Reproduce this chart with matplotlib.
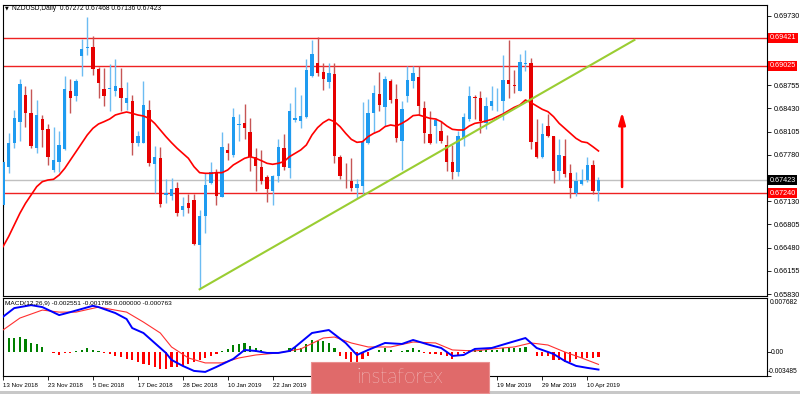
import numpy as np
import matplotlib
matplotlib.use("Agg")
import matplotlib.pyplot as plt
from matplotlib.patches import Rectangle

plt.rcParams['font.family'] = ['Liberation Sans', 'DejaVu Sans']

# NZDUSD daily candles, bar 0 = 13 Nov 2018
opens = [
    0.6708, 0.6761, 0.6795, 0.6824, 0.6862, 0.6836, 0.6787, 0.6828, 0.6814, 0.6757,
    0.6768, 0.6786, 0.6867, 0.6860, 0.6916, 0.6927, 0.6929, 0.6898, 0.6870, 0.6870,
    0.6868, 0.6871, 0.6850, 0.6853, 0.6794, 0.6794, 0.6841, 0.6765, 0.6774, 0.6722,
    0.6721, 0.6731, 0.6701, 0.6710, 0.6715, 0.6651, 0.6692, 0.6738, 0.6754, 0.6719,
    0.6785, 0.6778, 0.6820, 0.6822, 0.6810, 0.6775, 0.6761, 0.6747, 0.6728, 0.6749,
    0.6788, 0.6760, 0.6827, 0.6826, 0.6831, 0.6888, 0.6906, 0.6894, 0.6880, 0.6891,
    0.6775, 0.6746, 0.6741, 0.6731, 0.6734, 0.6794, 0.6836, 0.6863, 0.6845, 0.6881,
    0.6856, 0.6797, 0.6861, 0.6882, 0.6887, 0.6843, 0.6807, 0.6818, 0.6811, 0.6792,
    0.6768, 0.6754, 0.6801, 0.6828, 0.6859, 0.6857, 0.6822, 0.6846, 0.6853, 0.6854,
    0.6883, 0.6876, 0.6868, 0.6905, 0.6906, 0.6796, 0.6775, 0.6818, 0.6804, 0.6755,
    0.6776, 0.6752, 0.6725, 0.6737, 0.6743, 0.6764, 0.67272]
highs = [
    0.6771, 0.6808, 0.6841, 0.6884, 0.6874, 0.6870, 0.6855, 0.6834, 0.6821, 0.6817,
    0.6811, 0.6888, 0.6884, 0.6884, 0.6940, 0.6971, 0.6944, 0.6901, 0.6899, 0.6905,
    0.6912, 0.6900, 0.6880, 0.6862, 0.6811, 0.6881, 0.6855, 0.6790, 0.6789, 0.6744,
    0.6746, 0.6740, 0.6719, 0.6723, 0.6723, 0.6700, 0.6752, 0.6768, 0.6758, 0.6810,
    0.6794, 0.6844, 0.6835, 0.6849, 0.6830, 0.6787, 0.6785, 0.6750, 0.6750, 0.6800,
    0.6807, 0.6851, 0.6873, 0.6862, 0.6912, 0.6939, 0.6943, 0.6906, 0.6906, 0.6906,
    0.6778, 0.6766, 0.6773, 0.6744, 0.6852, 0.6856, 0.6876, 0.6894, 0.6888, 0.6884,
    0.6877, 0.6853, 0.6903, 0.6903, 0.6903, 0.6853, 0.6839, 0.6829, 0.6825, 0.6806,
    0.6792, 0.6811, 0.6836, 0.6874, 0.6862, 0.6867, 0.6859, 0.6875, 0.6871, 0.6918,
    0.6939, 0.6897, 0.6919, 0.6925, 0.6914, 0.6828, 0.6823, 0.6835, 0.6805, 0.6800,
    0.6800, 0.6765, 0.6754, 0.6758, 0.6775, 0.6771, 0.67468]
lows = [
    0.6705, 0.6753, 0.6787, 0.6798, 0.6817, 0.6787, 0.6781, 0.6789, 0.6764, 0.6754,
    0.6754, 0.6785, 0.6837, 0.6853, 0.6889, 0.6918, 0.6890, 0.6857, 0.6846, 0.6840,
    0.6860, 0.6839, 0.6841, 0.6778, 0.6790, 0.6794, 0.6763, 0.6724, 0.6705, 0.6710,
    0.6715, 0.6692, 0.6692, 0.6696, 0.6652, 0.6590, 0.6668, 0.6737, 0.6707, 0.6719,
    0.6771, 0.6775, 0.6797, 0.6800, 0.6756, 0.6728, 0.6737, 0.6712, 0.6707, 0.6740,
    0.6757, 0.6746, 0.6824, 0.6815, 0.6829, 0.6887, 0.6888, 0.6869, 0.6871, 0.6766,
    0.6744, 0.6731, 0.6727, 0.6718, 0.6723, 0.6793, 0.6808, 0.6839, 0.6818, 0.6850,
    0.6796, 0.6757, 0.6852, 0.6871, 0.6834, 0.6795, 0.6793, 0.6795, 0.6795, 0.6755,
    0.6744, 0.6749, 0.6790, 0.6826, 0.6828, 0.6808, 0.6814, 0.6841, 0.6840, 0.6827,
    0.6857, 0.6865, 0.6867, 0.6895, 0.6786, 0.6774, 0.6774, 0.6803, 0.6738, 0.6743,
    0.6747, 0.6718, 0.6721, 0.6736, 0.6740, 0.6723, 0.67136]
closes = [
    0.6768, 0.6794, 0.6829, 0.6877, 0.6837, 0.6790, 0.6834, 0.6813, 0.6775, 0.6771,
    0.6792, 0.6870, 0.6857, 0.6881, 0.6926, 0.6929, 0.6898, 0.6879, 0.6860, 0.6871,
    0.6874, 0.6857, 0.6857, 0.6794, 0.6804, 0.6848, 0.6766, 0.6775, 0.6709, 0.6724,
    0.6730, 0.6697, 0.6706, 0.6704, 0.6653, 0.6692, 0.6736, 0.6754, 0.6721, 0.6789,
    0.6780, 0.6831, 0.6821, 0.6816, 0.6775, 0.6762, 0.6742, 0.6730, 0.6749, 0.6789,
    0.6761, 0.6839, 0.6830, 0.6832, 0.6897, 0.6919, 0.6892, 0.6884, 0.6893, 0.6777,
    0.6749, 0.6745, 0.6732, 0.6737, 0.6796, 0.6837, 0.6864, 0.6848, 0.6884, 0.6855,
    0.6801, 0.6842, 0.6883, 0.6892, 0.6847, 0.6808, 0.6795, 0.6827, 0.6797, 0.6768,
    0.6754, 0.6804, 0.6831, 0.6860, 0.6858, 0.6825, 0.6846, 0.6853, 0.6854, 0.6883,
    0.6877, 0.6874, 0.6908, 0.6907, 0.6796, 0.6775, 0.6807, 0.6804, 0.6755, 0.6778,
    0.6751, 0.6732, 0.6741, 0.6743, 0.6764, 0.6728, 0.67423]

# moving average as drawn on the chart
ma = [
    0.66493, 0.66634, 0.66797, 0.66960, 0.67100, 0.67217, 0.67334, 0.67404, 0.67427, 0.67437,
    0.67497, 0.67591, 0.67708, 0.67824, 0.67941, 0.68058, 0.68151, 0.68212, 0.68245, 0.68282,
    0.68338, 0.68361, 0.68380, 0.68361, 0.68338, 0.68324, 0.68291, 0.68221, 0.68128, 0.68035,
    0.67950, 0.67871, 0.67801, 0.67731, 0.67614, 0.67530, 0.67521, 0.67521, 0.67530, 0.67530,
    0.67568, 0.67638, 0.67684, 0.67731, 0.67754, 0.67731, 0.67698, 0.67661, 0.67647, 0.67661,
    0.67684, 0.67754, 0.67801, 0.67848, 0.67918, 0.68058, 0.68161, 0.68231, 0.68277, 0.68245,
    0.68175, 0.68081, 0.67997, 0.67955, 0.67964, 0.68035, 0.68081, 0.68114, 0.68175, 0.68198,
    0.68184, 0.68221, 0.68268, 0.68329, 0.68338, 0.68315, 0.68291, 0.68282, 0.68245, 0.68184,
    0.68137, 0.68128, 0.68128, 0.68184, 0.68221, 0.68235, 0.68254, 0.68277, 0.68315, 0.68352,
    0.68399, 0.68445, 0.68478, 0.68548, 0.68511, 0.68464, 0.68417, 0.68385, 0.68315, 0.68221,
    0.68151, 0.68081, 0.68011, 0.67964, 0.67950, 0.67894, 0.67834]

# MACD(12,26,9) histogram per bar
hist = [
    0.00206, 0.00206, 0.00216, 0.00230, 0.00191, 0.00142, 0.00122, 0.00074, 0.0001, -0.00015,
    -0.0004, -0.00015, -0.00015, 0.0002, 0.0003, 0.0007, 0.0004, 0.00015, -0.00015, -0.0003,
    -0.0005, -0.00064, -0.0010, -0.0012, -0.0015, -0.0017, -0.0019, -0.0021, -0.0024, -0.0024,
    -0.0022, -0.0022, -0.0020, -0.0017, -0.0014, -0.0011, -0.0008, -0.0005, -0.00025, 0.0002,
    0.0005, 0.0011, 0.0012, 0.0013, 0.0009, 0.0006, 0.0003, 0.0001, -0.00005, 0.0001,
    0.0002, 0.0006, 0.0008, 0.0006, 0.0012, 0.0018, 0.0016, 0.0016, 0.0014, 0.0006,
    -0.0005, -0.0010, -0.0014, -0.0014, -0.0010, -0.0005, 0.0001, 0.0004, 0.0006, 0.0004,
    0.0001, 0.0002, 0.0004, 0.0007, 0.0003, -0.00015, -0.00025, -0.00025, -0.0004, -0.0006,
    -0.0010, -0.0006, -0.00015, 0.0003, 0.0004, 0.0003, 0.0004, 0.0003, 0.0004, 0.0006,
    0.0006, 0.0007, 0.0007, 0.0008, 0.0001, -0.0006, -0.0006, -0.0006, -0.0011, -0.0011,
    -0.0014, -0.0014, -0.0010, -0.0009, -0.0009, -0.0009, -0.000763]
macd_idx = [0, 2, 5, 7, 10, 12, 16, 17, 20, 22, 23, 25, 27, 29, 30, 32, 34, 36, 38, 41,
            43, 45, 47, 49, 51, 52, 55, 58, 61, 63, 65, 68, 71, 73, 76, 78, 80, 82, 84, 87,
            90, 93, 95, 98, 100, 102, 104, 106]
macd_val = [0.00523, 0.00651, 0.00695, 0.00666, 0.00548, 0.00592, 0.00685, 0.00666, 0.00578,
            0.00490, 0.00357, 0.00284, 0.00137, -0.0001, -0.00113, -0.00201, -0.00275, -0.00290,
            -0.00216, -0.00098, 0.00034, 0.00019, -0.0001, -0.0001, 0.00019, 0.00078, 0.00284,
            0.00328, 0.00137, -0.0004, 0.00034, 0.00137, 0.00122, 0.00181, 0.00107, 0.00063,
            -0.00054, -0.0004, 0.00049, 0.00063, 0.00137, 0.0021, 0.00063, -0.00025, -0.00128,
            -0.00201, -0.0023, -0.002551]
sig_idx = [0, 3, 7, 10, 13, 17, 22, 25, 28, 30, 33, 36, 39, 42, 45, 49, 53, 57, 59, 62,
           65, 69, 73, 77, 80, 84, 87, 91, 94, 97, 100, 103, 106]
sig_val = [0.00328, 0.00504, 0.00622, 0.00592, 0.00592, 0.00666, 0.00592, 0.00445, 0.00284,
           0.00078, -0.00084, -0.00157, -0.00157, -0.00084, -0.0004, -0.0001, 0.00049, 0.0021,
           0.00225, 0.00137, 0.00078, 0.00078, 0.00151, 0.00137, 0.00034, 0.00019, 0.00049,
           0.00078, 0.00137, 0.00107, 0.00004, -0.00084, -0.001788]

# drawn objects
levels = [0.69421, 0.69025, 0.67240]
bid = 0.67423
trend_idx = [35, 112.4]
trend_val = [0.65896, 0.69389]
arrow_idx = 110.2
arrow_from, arrow_to = 0.67329, 0.68380

date_idx = [0, 8, 16, 24, 32, 40, 48, 56, 64, 72, 80, 88, 96, 104]
date_txt = ['13 Nov 2018', '23 Nov 2018', '5 Dec 2018', '17 Dec 2018', '28 Dec 2018',
            '10 Jan 2019', '22 Jan 2019', '', '', '', '',
            '19 Mar 2019', '29 Mar 2019', '10 Apr 2019']   # middle ones sit under the logo

W, H = 800, 394
fig = plt.figure(figsize=(8, 3.94), dpi=100)


def px_box(l, t, r, b):
    return [l / W, 1 - b / H, (r - l) / W, (b - t) / H]


ax = fig.add_axes(px_box(3, 5, 767, 296))
axm = fig.add_axes(px_box(3, 298, 767, 376), sharex=ax)

idx = np.arange(len(opens))
o = np.array(opens)
c = np.array(closes)
up = c >= o
body_col = np.where(up, '#1e9bf0', '#e60000')
wick_col = np.where(up, '#6cbcf2', '#c65555')

for y in levels:
    ax.axhline(y, color='#ee2222', lw=1, zorder=1)
ax.axhline(bid, color='#c0c0c0', lw=1, zorder=1)

ax.vlines(idx, lows, highs, colors=wick_col, lw=1, zorder=2)
bot = np.minimum(o, c)
hgt = np.maximum(np.abs(c - o), 0.00006)
ax.bar(idx, hgt, bottom=bot, width=0.6, color=body_col, lw=0, zorder=3)

ax.plot(idx, ma, color='#ff0000', lw=1.2, zorder=4)
ax.plot(trend_idx, trend_val, color='#9acd32', lw=1.5, zorder=5)
ax.annotate('', xy=(arrow_idx, arrow_to), xytext=(arrow_idx, arrow_from),
            arrowprops=dict(arrowstyle='-|>,head_length=0.7,head_width=0.2',
                            color='#ff0000', lw=1.8, shrinkA=0, shrinkB=0), zorder=6)

ax.set_xlim(0.18, 136)
ax.set_ylim(0.65802, 0.69879)
ax.yaxis.tick_right()
yt = [0.65830 + k * 0.00325 for k in range(13)]
hidden = {5, 10, 11}   # covered by the price boxes
ax.set_yticks(yt)
ax.set_yticklabels(['' if k in hidden else f'{v:.5f}' for k, v in enumerate(yt)])
ax.tick_params(axis='y', direction='out', length=3, width=0.6, pad=1.5, labelsize=5.2)
ax.tick_params(axis='x', bottom=False, labelbottom=False)

# price boxes on the right scale
for y, fc in [(0.69421, '#ff0000'), (0.69025, '#ff0000'), (bid, '#000000'), (0.67240, '#ff0000')]:
    ax.annotate(f'{y:.5f}', xy=(1, y), xycoords=('axes fraction', 'data'),
                xytext=(2, 0), textcoords='offset points', ha='left', va='center',
                fontsize=5.2, color='white', zorder=10, annotation_clip=False,
                bbox=dict(boxstyle='square,pad=0.2', fc=fc, ec='none'))

# MACD window
hcol = ['#008000' if v >= 0 else '#ff0000' for v in hist]
axm.bar(idx, hist, width=0.38, color=hcol, lw=0, zorder=2)
axm.plot(sig_idx, sig_val, color='#ff3030', lw=0.8, zorder=3)
axm.plot(macd_idx, macd_val, color='#0000ff', lw=1.4, zorder=4)
axm.set_ylim(-0.0035, 0.0080)
axm.yaxis.tick_right()
axm.set_yticks([0.0, -0.003485])
axm.set_yticklabels([])
axm.tick_params(axis='y', direction='out', length=3, width=0.6)
tr = axm.get_yaxis_transform()
axm.text(1.003, 0.0079, '0.007682', transform=tr, fontsize=4.9, va='top', ha='left')
axm.text(1.005, 0.0, '0.00', transform=tr, fontsize=4.9, va='center', ha='left')
axm.text(1.001, -0.0034, '-0.003485', transform=tr, fontsize=4.8, va='bottom', ha='left')

axm.set_xticks(date_idx)
axm.set_xticklabels(date_txt, ha='left')
axm.tick_params(axis='x', direction='out', length=3, width=0.6, pad=2, labelsize=4.4)

for a in (ax, axm):
    for s in a.spines.values():
        s.set_color('#000000')
        s.set_linewidth(0.8)

fig.text(5 / W, 1 - 8 / H, '\u25bc', fontsize=3.5, va='center', ha='left', family='DejaVu Sans')
fig.text(12 / W, 1 - 8 / H, 'NZDUSD,Daily  0.67272 0.67468 0.67136 0.67423',
         fontsize=4.8, va='center', ha='left')
fig.text(5 / W, 1 - 304 / H, 'MACD(12,26,9) -0.002551 -0.001788 0.000000 -0.000763',
         fontsize=4.65, va='center', ha='left', zorder=1)

# bottom window strip and logo
fig.patches.append(Rectangle((0, 0), 1, 3.5 / H, transform=fig.transFigure,
                             fc='#c8c8c8', ec='none'))
fig.patches.append(Rectangle((311 / W, 1 - 393 / H), 178 / W, 31 / H,
                             transform=fig.transFigure, fc='#e06a6a', ec='#ea9090', lw=0.8,
                             zorder=20))
fig.text(400 / W, 1 - 377 / H, 'instaforex', fontsize=15, color='white', ha='center',
         va='center', family=['Lato', 'Open Sans', 'DejaVu Sans'], weight='light', zorder=21)

fig.savefig('out.png', dpi=100)
